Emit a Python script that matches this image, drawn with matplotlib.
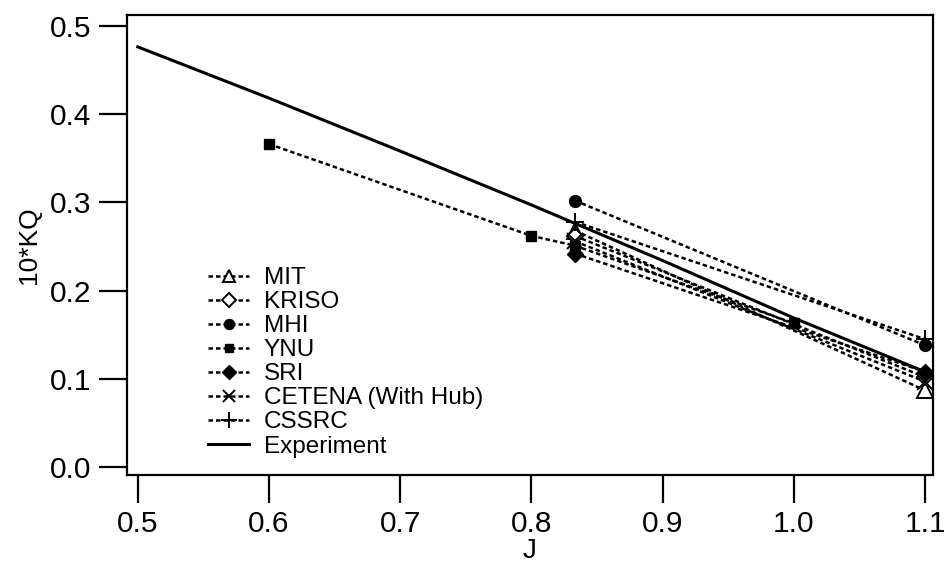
import matplotlib
matplotlib.use("Agg")
import matplotlib.pyplot as plt

plt.rcParams['font.family'] = ['Liberation Sans', 'DejaVu Sans']

# ---- data ----
J_exp = [0.5, 0.6, 0.7, 0.8, 0.9, 1.0, 1.1]
KQ_exp = [0.476, 0.418, 0.358, 0.297, 0.234, 0.169, 0.108]

J_two = [0.833, 1.1]
mit = [0.268, 0.087]
kriso = [0.262, 0.102]
mhi = [0.302, 0.138]
sri = [0.242, 0.108]
cetena = [0.256, 0.097]
cssrc = [0.278, 0.145]

J_ynu = [0.6, 0.8, 0.833, 1.0]
ynu = [0.366, 0.262, 0.251, 0.163]

xticks = [0.5, 0.6, 0.7, 0.8, 0.9, 1.0, 1.1]
yticks = [0.0, 0.1, 0.2, 0.3, 0.4, 0.5]

fig = plt.figure(figsize=(9.45, 5.69), dpi=100)
ax = fig.add_axes([127/945, 1-475/569, (933-127)/945, (475-15)/569])

dot = (0, (1.8, 1.2))
kw = dict(color='black', lw=1.8, linestyle=dot)

ax.plot(J_two, mit, marker='^', ms=11, mfc='white', mec='black', mew=1.4, label='MIT', **kw)
ax.plot(J_two, kriso, marker='D', ms=8, mfc='white', mec='black', mew=1.4, label='KRISO', **kw)
ax.plot(J_two, mhi, marker='o', ms=8.5, mfc='black', mec='black', label='MHI', **kw)
ax.plot(J_ynu, ynu, marker='s', ms=7.5, mfc='black', mec='black', label='YNU', **kw)
ax.plot(J_two, sri, marker='D', ms=8, mfc='black', mec='black', label='SRI', **kw)
ax.plot(J_two, cetena, marker='x', ms=11, mec='black', mew=1.4, label='CETENA (With Hub)', **kw)
ax.plot(J_two, cssrc, marker='+', ms=13, mec='black', mew=1.4, label='CSSRC', **kw)
ax.plot(J_exp, KQ_exp, color='black', lw=2.2, linestyle='-', label='Experiment')

ax.set_xlim(0.4918, 1.106)
ax.set_ylim(-0.0088, 0.5121)
ax.set_xticks(xticks)
ax.set_xticklabels(['%.1f' % v for v in xticks])
ax.set_yticks(yticks)
ax.set_yticklabels(['%.1f' % v for v in yticks])
ax.tick_params(axis='both', direction='out', length=20, width=1.6, labelsize=21.5, pad=6)
ax.tick_params(axis='x', pad=5)

for s in ax.spines.values():
    s.set_linewidth(1.6)

ax.set_xlabel('J', fontsize=20, labelpad=0)
ax.set_ylabel('10*KQ', fontsize=19, labelpad=6)

ax.legend(loc='upper left', bbox_to_anchor=(208/945, 1-267/569), bbox_transform=fig.transFigure,
          frameon=False, fontsize=17.5, handlelength=1.7, handletextpad=0.6, markerscale=0.85,
          labelspacing=0.085, borderpad=0, borderaxespad=0)

fig.savefig('out.png', dpi=100)
